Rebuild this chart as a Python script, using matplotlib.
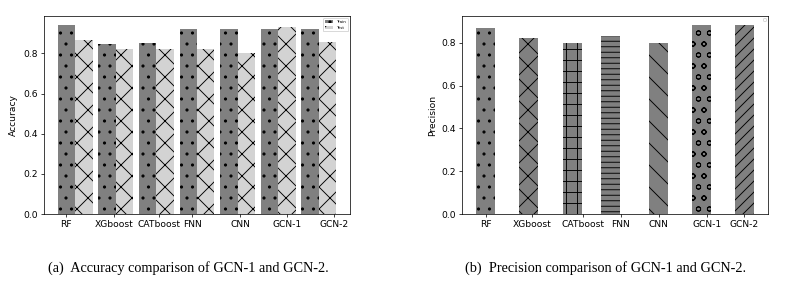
import numpy as np
import matplotlib.pyplot as plt

models = ['RF', 'XGboost', 'CATboost', 'FNN', 'CNN', 'GCN-1', 'GCN-2']

# accuracy (left panel)
acc_train = [0.940, 0.845, 0.854, 0.920, 0.920, 0.920, 0.920]
acc_test = [0.865, 0.820, 0.820, 0.820, 0.800, 0.930, 0.857]
acc_ticks = [-0.22, 0.96, 2.06, 2.88, 4.06, 5.22, 6.38]

# precision (right panel)
precision = [0.867, 0.820, 0.800, 0.833, 0.800, 0.881, 0.881]
prec_pos = [0, 0.99, 2.01, 2.89, 4.0, 5.01, 6.0]
prec_ticks = [0.01, 1.07, 2.25, 3.13, 4.01, 5.14, 5.98]
prec_hatch = ['.', 'x', '+', '--', '\\', 'o', '//']

dpi = 66
fig = plt.figure(figsize=(807 / dpi, 285 / dpi), dpi=dpi)

# ---- (a) accuracy ----
ax1 = fig.add_axes([0.0545, 0.249, 0.3792, 0.695])
x = np.arange(len(models))
w = 0.43
ax1.bar(x - w / 2, acc_train, w, color='gray', hatch='.', label='Train')
ax1.bar(x + w / 2, acc_test, w, color='lightgray', hatch='x', label='Test')
ax1.set_xticks(acc_ticks)
ax1.set_xticklabels(models, fontsize=10)
ax1.set_yticks([0.0, 0.2, 0.4, 0.6, 0.8])
ax1.tick_params(axis='y', labelsize=10)
ax1.set_ylabel('Accuracy', fontsize=10, labelpad=5)
ax1.legend(loc='upper right', fontsize=4.5)

# ---- (b) precision ----
ax2 = fig.add_axes([0.5725, 0.249, 0.3792, 0.695])
for p, v, h in zip(prec_pos, precision, prec_hatch):
    ax2.bar(p, v, 0.44, color='gray', hatch=h)
ax2.set_xticks(prec_ticks)
ax2.set_xticklabels(models, fontsize=10)
ax2.set_yticks([0.0, 0.2, 0.4, 0.6, 0.8])
ax2.tick_params(axis='y', labelsize=10)
ax2.set_ylabel('Precision', fontsize=10)
ax2.legend(handles=[], loc='upper right', fontsize=4)

# captions
fig.text(0.233, 0.06, '(a)  Accuracy comparison of GCN-1 and GCN-2.',
         ha='center', va='center', family='Liberation Serif', fontsize=15.6)
fig.text(0.751, 0.06, '(b)  Precision comparison of GCN-1 and GCN-2.',
         ha='center', va='center', family='Liberation Serif', fontsize=15.6)

fig.savefig('out.png', dpi=dpi)
